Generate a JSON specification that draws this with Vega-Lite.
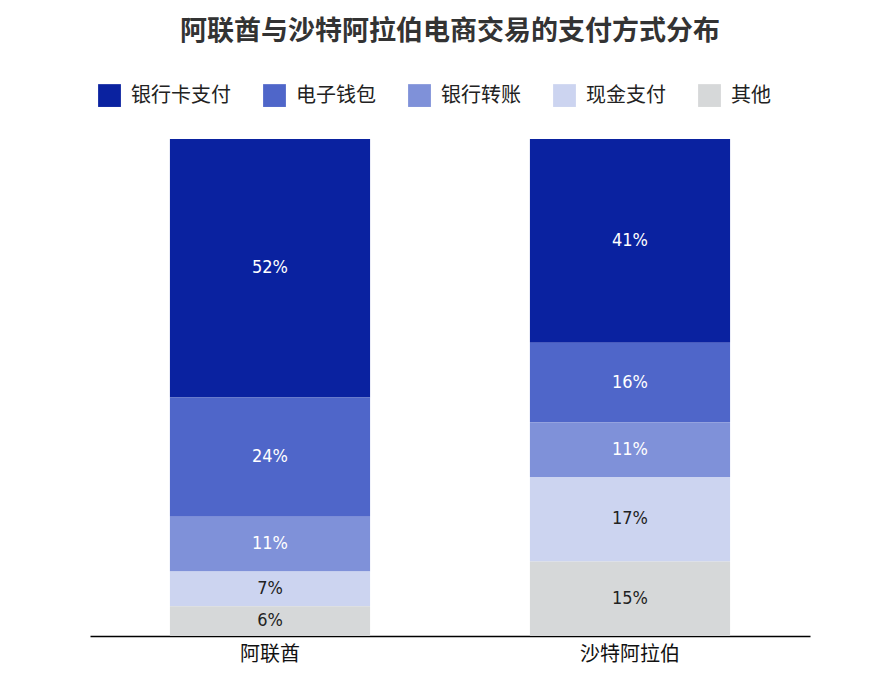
{
  "$schema": "https://vega.github.io/schema/vega-lite/v6.json",
  "width": 720,
  "height": 497,
  "autosize": {"type": "none"},
  "padding": {"left": 90, "top": 139, "right": 76, "bottom": 50},
  "background": "white",
  "title": {
    "text": "阿联酋与沙特阿拉伯电商交易的支付方式分布",
    "font": "Noto Sans CJK SC",
    "fontSize": 27,
    "fontWeight": "bold",
    "color": "#333333",
    "anchor": "middle",
    "offset": 38
  },
  "data": {
    "values": [
      {"country": "阿联酋", "method": "银行卡支付", "v": 52, "o": 4},
      {"country": "阿联酋", "method": "电子钱包", "v": 24, "o": 3},
      {"country": "阿联酋", "method": "银行转账", "v": 11, "o": 2},
      {"country": "阿联酋", "method": "现金支付", "v": 7, "o": 1},
      {"country": "阿联酋", "method": "其他", "v": 6, "o": 0},
      {"country": "沙特阿拉伯", "method": "银行卡支付", "v": 41, "o": 4},
      {"country": "沙特阿拉伯", "method": "电子钱包", "v": 16, "o": 3},
      {"country": "沙特阿拉伯", "method": "银行转账", "v": 11, "o": 2},
      {"country": "沙特阿拉伯", "method": "现金支付", "v": 17, "o": 1},
      {"country": "沙特阿拉伯", "method": "其他", "v": 15, "o": 0}
    ]
  },
  "transform": [
    {"stack": "v", "groupby": ["country"], "sort": [{"field": "o"}], "as": ["y0", "y1"]},
    {"calculate": "(datum.y0 + datum.y1) / 2", "as": "ym"},
    {"calculate": "datum.v + '%'", "as": "lab"}
  ],
  "encoding": {
    "x": {
      "field": "country", "type": "nominal", "sort": ["阿联酋", "沙特阿拉伯"], "title": null,
      "scale": {"paddingInner": 0.444, "paddingOuter": 0.222},
      "axis": {"labelAngle": 0, "labelFont": "Noto Sans CJK SC", "labelFontSize": 20, "labelColor": "#111111", "ticks": false, "domainColor": "#000000", "domainWidth": 1.5, "labelPadding": 8}
    }
  },
  "layer": [
    {
      "mark": {"type": "bar"},
      "encoding": {
        "y": {"field": "y0", "type": "quantitative", "scale": {"domain": [0, 100]}, "axis": null},
        "y2": {"field": "y1"},
        "color": {
          "field": "method", "type": "nominal",
          "scale": {"domain": ["银行卡支付", "电子钱包", "银行转账", "现金支付", "其他"], "range": ["#0A22A0", "#4F66C9", "#7F91D9", "#CCD4F0", "#D6D8D9"]},
          "legend": {
            "title": null, "orient": "none", "direction": "horizontal", "legendX": 8, "legendY": -55,
            "symbolType": "square", "symbolSize": 520, "symbolStrokeWidth": 0,
            "labelFont": "Noto Sans CJK SC", "labelFontSize": 20, "labelColor": "#222222",
            "columnPadding": 32, "labelOffset": 10
          }
        }
      }
    },
    {
      "mark": {"type": "text", "font": "DejaVu Sans Condensed", "fontSize": 18},
      "encoding": {
        "y": {"field": "ym", "type": "quantitative"},
        "text": {"field": "lab"},
        "color": {"condition": {"test": "datum.o >= 2", "value": "white"}, "value": "#222222"}
      }
    }
  ],
  "config": {"view": {"stroke": null}}
}
